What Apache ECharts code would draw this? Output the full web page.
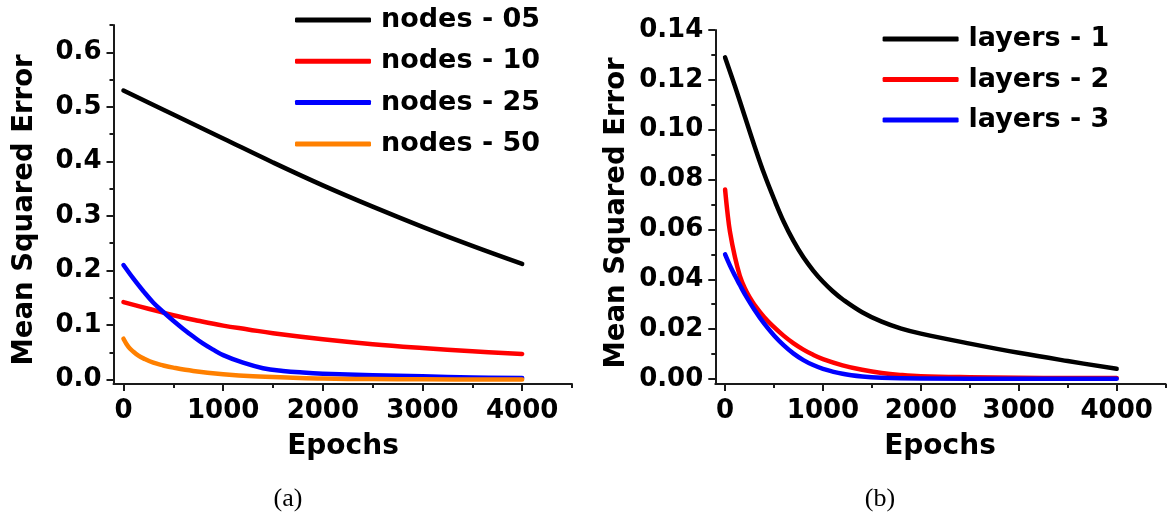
<!DOCTYPE html>
<html>
<head>
<meta charset="utf-8">
<script src="https://cdn.jsdelivr.net/npm/echarts@6/dist/echarts.min.js"></script>
<style>
html,body{margin:0;padding:0;background:#fff;}
#c{width:1168px;height:518px;}
</style>
</head>
<body>
<div id="c"></div>
<script>
// ---------- tick labels ----------
const xTicks = [0, 1000, 2000, 3000, 4000];
const xMinorTicks = [500, 1500, 2500, 3500, 4500];
const yTicksA = [0, 0.1, 0.2, 0.3, 0.4, 0.5, 0.6];
const yMinorTicksA = [0.05, 0.15, 0.25, 0.35, 0.45, 0.55, 0.65];
const yTicksB = [0, 0.02, 0.04, 0.06, 0.08, 0.10, 0.12, 0.14];
const yMinorTicksB = [0.01, 0.03, 0.05, 0.07, 0.09, 0.11, 0.13];

// ---------- panel (a): nodes ----------
const namesA = ['nodes - 05', 'nodes - 10', 'nodes - 25', 'nodes - 50'];
const epochsA05 = [0, 500, 1000, 1500, 2000, 2500, 3000, 3500, 4000];
const mseA05    = [0.530, 0.486, 0.442, 0.398, 0.356, 0.317, 0.280, 0.245, 0.212];
const epochsA10 = [0, 250, 500, 750, 1000, 1250, 1500, 2000, 2500, 3000, 3500, 4000];
const mseA10    = [0.142, 0.130, 0.118, 0.108, 0.099, 0.092, 0.085, 0.074, 0.065, 0.058, 0.052, 0.047];
const epochsA25 = [0, 100, 200, 300, 400, 500, 600, 700, 800, 900, 1000, 1200, 1400, 1600, 1800, 2000, 2500, 3000, 3500, 4000];
const mseA25    = [0.210, 0.185, 0.162, 0.141, 0.124, 0.108, 0.093, 0.079, 0.066, 0.055, 0.045, 0.031, 0.021, 0.016, 0.013, 0.011, 0.008, 0.006, 0.004, 0.003];
const epochsA50 = [0, 50, 100, 150, 200, 300, 400, 500, 700, 1000, 1300, 1700, 2000, 2500, 3000, 4000];
const mseA50    = [0.075, 0.060, 0.051, 0.044, 0.039, 0.031, 0.026, 0.022, 0.016, 0.010, 0.006, 0.0035, 0.002, 0.001, 0.0005, 0.0003];

// ---------- panel (b): layers ----------
const namesB = ['layers - 1', 'layers - 2', 'layers - 3'];
const epochsB1 = [0, 100, 200, 300, 400, 500, 600, 700, 800, 900, 1000, 1100, 1200, 1400, 1600, 1800, 2000, 2500, 3000, 3500, 4000];
const mseB1    = [0.129, 0.1175, 0.1055, 0.0935, 0.0822, 0.0722, 0.0630, 0.0553, 0.0488, 0.0435, 0.0390, 0.0352, 0.0320, 0.0268, 0.0230, 0.0202, 0.0182, 0.0142, 0.0105, 0.0072, 0.0041];
const epochsB2 = [0, 25, 50, 100, 150, 200, 250, 300, 400, 500, 600, 700, 800, 900, 1000, 1200, 1400, 1600, 1800, 2000, 2500, 3000, 3500, 4000];
const mseB2    = [0.076, 0.0665, 0.059, 0.049, 0.0415, 0.0365, 0.0328, 0.0298, 0.0248, 0.0208, 0.0173, 0.0143, 0.0118, 0.0097, 0.0080, 0.0055, 0.0037, 0.0024, 0.0016, 0.0011, 0.0007, 0.0005, 0.0004, 0.0004];
const epochsB3 = [0, 50, 100, 150, 200, 300, 400, 500, 600, 700, 800, 900, 1000, 1200, 1400, 1600, 2000, 3000, 4000];
const mseB3    = [0.050, 0.0455, 0.0415, 0.0378, 0.0342, 0.0278, 0.0222, 0.0175, 0.0135, 0.0102, 0.0076, 0.0056, 0.0041, 0.0021, 0.0010, 0.0005, 0.0002, 0.0001, 0.0001];

const zip = (xs, ys) => xs.map((x, i) => [x, ys[i]]);
const FONT = "'DejaVu Sans', sans-serif";
const AX = '#1a1a1a';

function majorX(grid) {
  return {
    type: 'value', gridIndex: grid, position: 'bottom', min: -100, max: 4500,
    splitLine: {show: false},
    axisLine: {show: true, onZero: false, lineStyle: {color: AX, width: 2}},
    axisTick: {show: true, customValues: xTicks, length: 7, lineStyle: {color: AX, width: 2}},
    axisLabel: {customValues: xTicks, margin: 14, color: '#000', fontFamily: FONT, fontWeight: 'bold', fontSize: 26,
      formatter: v => String(Math.round(v))}
  };
}
function minorX(grid) {
  return {
    type: 'value', gridIndex: grid, position: 'bottom', min: -100, max: 4500,
    splitLine: {show: false},
    axisLine: {show: false, onZero: false},
    axisTick: {show: true, customValues: xMinorTicks, length: 4, lineStyle: {color: AX, width: 2}},
    axisLabel: {show: false}
  };
}
function majorY(grid, min, max, ticks, dec) {
  return {
    type: 'value', gridIndex: grid, position: 'left', min: min, max: max,
    splitLine: {show: false},
    axisLine: {show: true, onZero: false, lineStyle: {color: AX, width: 2}},
    axisTick: {show: true, customValues: ticks, length: 7, lineStyle: {color: AX, width: 2}},
    axisLabel: {customValues: ticks, margin: 12, color: '#000', fontFamily: FONT, fontWeight: 'bold', fontSize: 26,
      formatter: v => Number(v).toFixed(dec)}
  };
}
function minorY(grid, min, max, ticks) {
  return {
    type: 'value', gridIndex: grid, position: 'left', min: min, max: max,
    splitLine: {show: false},
    axisLine: {show: false, onZero: false},
    axisTick: {show: true, customValues: ticks, length: 4, lineStyle: {color: AX, width: 2}},
    axisLabel: {show: false}
  };
}
function line(name, color, data, xi, yi) {
  return {
    type: 'line', name: name, data: data, xAxisIndex: xi, yAxisIndex: yi,
    showSymbol: false, symbol: 'none', smooth: 0.4,
    color: color,
    itemStyle: {color: color},
    lineStyle: {color: color, width: 4.5, cap: 'round', join: 'round'},
    emphasis: {disabled: true}, animation: false
  };
}
function legend(names, left, top, gap) {
  return {
    data: names, orient: 'vertical', left: left, top: top, padding: 0,
    icon: 'roundRect', itemWidth: 76, itemHeight: 5, itemGap: gap,
    itemStyle: {borderWidth: 0},
    selectedMode: false,
    textStyle: {fontFamily: FONT, fontWeight: 'bold', fontSize: 27, color: '#000', lineHeight: 30, padding: [0, 0, 0, 5]}
  };
}
function txt(text, x, y, size, rot, family, weight) {
  return {
    type: 'text', x: x, y: y, rotation: rot || 0,
    style: {text: text, fill: '#000', font: (weight || 'bold') + ' ' + size + 'px ' + (family || FONT),
      textAlign: 'center', textVerticalAlign: 'middle'}
  };
}

const chart = echarts.init(document.getElementById('c'), null, {renderer: 'canvas'});
chart.setOption({
  backgroundColor: '#fff',
  animation: false,
  grid: [
    {left: 113.5, top: 25, width: 458.5, height: 359},
    {left: 715.3, top: 30, width: 450.3, height: 354}
  ],
  xAxis: [majorX(0), minorX(0), majorX(1), minorX(1)],
  yAxis: [
    majorY(0, -0.008, 0.65, yTicksA, 1), minorY(0, -0.008, 0.65, yMinorTicksA),
    majorY(1, -0.002, 0.14, yTicksB, 2), minorY(1, -0.002, 0.14, yMinorTicksB)
  ],
  legend: [legend(namesA, 295, 5, 11.3), legend(namesB, 882.6, 24, 10.5)],
  series: [
    line(namesA[0], '#000000', zip(epochsA05, mseA05), 0, 0),
    line(namesA[1], '#ff0000', zip(epochsA10, mseA10), 0, 0),
    line(namesA[2], '#0000ff', zip(epochsA25, mseA25), 0, 0),
    line(namesA[3], '#ff8000', zip(epochsA50, mseA50), 0, 0),
    line(namesB[0], '#000000', zip(epochsB1, mseB1), 2, 2),
    line(namesB[1], '#ff0000', zip(epochsB2, mseB2), 2, 2),
    line(namesB[2], '#0000ff', zip(epochsB3, mseB3), 2, 2)
  ],
  graphic: [
    txt('Mean Squared Error', 25, 210, 27.5, Math.PI / 2),
    txt('Mean Squared Error', 617, 213, 27.5, Math.PI / 2),
    txt('Epochs', 343, 447, 28),
    txt('Epochs', 940, 447, 28),
    txt('(a)', 288, 499, 26, 0, "'Liberation Serif', 'Times New Roman', serif", 'normal'),
    txt('(b)', 880, 499, 26, 0, "'Liberation Serif', 'Times New Roman', serif", 'normal')
  ]
});
</script>
</body>
</html>
